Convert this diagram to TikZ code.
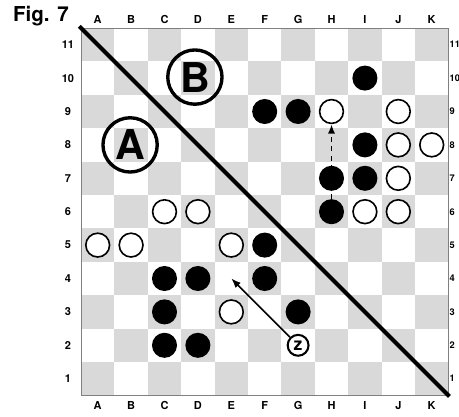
\documentclass[tikz,border=0pt]{standalone}
\usepackage{fontspec}
\setmainfont{TeX Gyre Heros}
\usetikzlibrary{arrows.meta}
\definecolor{boardgray}{gray}{0.85}

\begin{document}
\begin{tikzpicture}[x=0.8cm,y=0.8cm,>={Latex[length=6.5pt,width=5pt]},
  blk/.style={circle,fill=black,inner sep=0pt,minimum size=0.6cm},
  wht/.style={circle,draw=black,fill=white,line width=1.1pt,inner sep=0pt,minimum size=0.57cm},
  zone/.style={circle,draw,line width=2.3pt,inner sep=0pt,minimum size=1.3cm,
    font=\bfseries\fontsize{28}{28}\selectfont},
  lbl/.style={font=\bfseries\fontsize{7.5}{8}\selectfont}]
  \useasboundingbox (-2.425,-0.629) rectangle (11.317,11.838);
  % board
  \foreach \c in {1,...,11}
    \foreach \r in {1,...,11} {
      \pgfmathparse{int(mod(\c+\r,2))}
      \ifnum\pgfmathresult=0
        \fill[boardgray] (\c-1,\r-1) rectangle ++(1,1);
      \fi
    }
  \draw[gray,line width=0.4pt] (0,0) rectangle (11,11);
  % coordinates
  \foreach \l [count=\i] in {A,...,K} {
    \node[lbl] (top\l) at (\i-0.5,11.25) {\l};
    \node[lbl] (bot\l) at (\i-0.5,-0.31) {\l};
  }
  \foreach \r in {1,...,11} {
    \node[lbl] (left\r) at (-0.39,\r-0.5) {\r};
    \node[lbl,font=\bfseries\fontsize{6.3}{7}\selectfont,anchor=west,inner sep=0pt]
      (right\r) at (11.03,\r-0.5) {\r};
  }
  \node[font=\bfseries\fontsize{14}{14}\selectfont] (fig) at (-1.2,11.37) {Fig. 7};
  % dividing line
  \draw[line width=2.8pt] (-0.05,11.05) -- (11.03,-0.03);
  \node[zone] (zoneA) at (1.47,7.5) {A};
  \node[zone] (zoneB) at (3.41,9.53) {B};
  % stones
  \foreach \n/\x/\y in {I10/9/10,F9/6/9,G9/7/9,I8/9/8,H7/8/7,I7/9/7,H6/8/6,F5/6/5,
      C4/3/4,D4/4/4,F4/6/4,C3/3/3,G3/7/3,C2/3/2,D2/4/2}
    \node[blk] (\n) at (\x-0.5,\y-0.5) {};
  \foreach \n/\x/\y in {H9/8/9,J9/10/9,J8/10/8,K8/11/8,J7/10/7,I6/9/6,J6/10/6,
      C6/3/6,D6/4/6,A5/1/5,B5/2/5,E5/5/5,E3/5/3}
    \node[wht] (\n) at (\x-0.5,\y-0.5) {};
  \draw[->,line width=1.3pt,dash pattern=on 3.5pt off 3pt] (H6.north) -- (H9.south);
  % marker z
  \coordinate (E4) at (4.5,3.5);
  \node[circle,draw,fill=white,line width=1.4pt,inner sep=0pt,minimum size=0.5cm,
    font=\bfseries\fontsize{12}{12}\selectfont] (z) at (6.5,1.5) {z};
  \draw[->,line width=1.1pt] (z) -- (E4);
\end{tikzpicture}
\end{document}
